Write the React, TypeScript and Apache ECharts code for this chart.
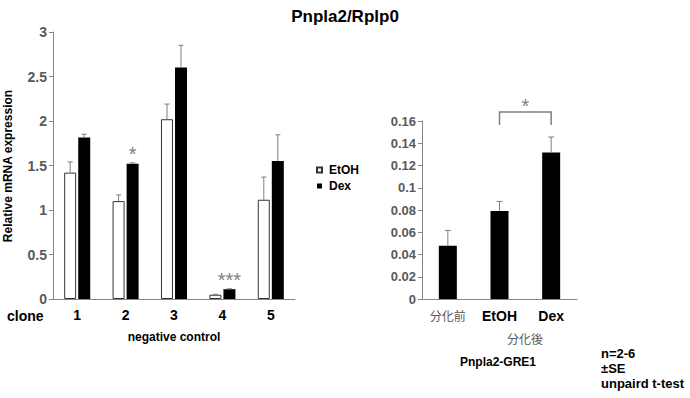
import React, { useEffect, useRef } from "react";
import * as echarts from "echarts";

// ---- data ----
const clones = ["1", "2", "3", "4", "5"];
const etohMean = [1.42, 1.1, 2.02, 0.048, 1.115];
const etohErr = [0.12, 0.07, 0.17, 0.005, 0.255];
const dexMean = [1.816, 1.52, 2.6, 0.11, 1.55];
const dexErr = [0.035, 0.01, 0.25, 0.005, 0.295];
const dexSig = ["", "*", "", "***", ""];

const greCats = ["分化前", "EtOH", "Dex"];
const greMean = [0.0478, 0.0792, 0.1316];
const greErr = [0.0138, 0.0085, 0.014];
const greBrackets = [{ from: 1, to: 2, label: "*" }];

const leftTicks = { min: 0, max: 3, interval: 0.5 };
const rightTicks = { min: 0, max: 0.16, interval: 0.02 };

const FONT = "Liberation Sans, Arial, sans-serif";
const AXIS_GRAY = "#868686";
const ERR_GRAY = "#7f7f7f";
const LABEL_GRAY = "#595959";

function errRenderer(offset: number, cap: number, sig?: string[]) {
  return (params: any, api: any) => {
    const x = api.value(0);
    const m = api.value(1);
    const e = api.value(2);
    const p0 = api.coord([x, m]);
    const p1 = api.coord([x, m + e]);
    const cx = p0[0] + offset;
    const children: any[] = [
      {
        type: "line",
        shape: { x1: cx, y1: p0[1], x2: cx, y2: p1[1] },
        style: { stroke: ERR_GRAY, lineWidth: 1 },
      },
      {
        type: "line",
        shape: { x1: cx - cap, y1: p1[1], x2: cx + cap, y2: p1[1] },
        style: { stroke: ERR_GRAY, lineWidth: 1 },
      },
    ];
    const s = sig ? sig[params.dataIndex] : "";
    if (s) {
      children.push({
        type: "text",
        style: {
          text: s,
          x: cx,
          y: p1[1] - 9,
          align: "center",
          verticalAlign: "middle",
          fontSize: 20,
          fontFamily: FONT,
          fill: ERR_GRAY,
        },
      });
    }
    return { type: "group", children };
  };
}

export default function App() {
  const ref = useRef<HTMLDivElement>(null);
  useEffect(() => {
    if (!ref.current) return;
    const chart = echarts.init(ref.current, undefined, { renderer: "svg" });

    const bracketRender = (params: any, api: any) => {
      const b = greBrackets[params.dataIndex];
      const topVal = Math.max(
        greMean[b.from] + greErr[b.from],
        greMean[b.to] + greErr[b.to]
      );
      const pa = api.coord([b.from, topVal]);
      const pb = api.coord([b.to, topVal]);
      const legBottom = pa[1] - 12;
      const top = legBottom - 13;
      return {
        type: "group",
        children: [
          {
            type: "polyline",
            shape: {
              points: [
                [pa[0], legBottom],
                [pa[0], top],
                [pb[0], top],
                [pb[0], legBottom],
              ],
            },
            style: { stroke: ERR_GRAY, lineWidth: 1.5, fill: "none" },
          },
          {
            type: "text",
            style: {
              text: b.label,
              x: (pa[0] + pb[0]) / 2,
              y: top - 6,
              align: "center",
              verticalAlign: "middle",
              fontSize: 20,
              fontFamily: FONT,
              fill: ERR_GRAY,
            },
          },
        ],
      };
    };

    const option: any = {
      animation: false,
      textStyle: { fontFamily: FONT },
      title: {
        text: "Pnpla2/Rplp0",
        left: "center",
        top: 3,
        textStyle: { fontSize: 17, fontWeight: "bold", color: "#000", fontFamily: FONT },
      },
      legend: {
        data: ["EtOH", "Dex"],
        orient: "vertical",
        left: 311,
        top: 159,
        itemWidth: 5,
        itemHeight: 5,
        itemGap: 4,
        icon: "rect",
        textStyle: { fontSize: 12, fontWeight: "bold", color: "#000", padding: [0, 0, 0, 2] },
      },
      grid: [
        { left: 53, top: 32, width: 242, height: 267 },
        { left: 422, top: 121, width: 155, height: 178 },
      ],
      xAxis: [
        {
          type: "category",
          gridIndex: 0,
          data: clones,
          axisLine: { lineStyle: { color: AXIS_GRAY } },
          axisTick: { length: 5, lineStyle: { color: AXIS_GRAY } },
          axisLabel: { interval: 0, fontSize: 14, fontWeight: "bold", color: "#000", margin: 9 },
        },
        {
          type: "category",
          gridIndex: 1,
          data: greCats,
          axisLine: { lineStyle: { color: AXIS_GRAY } },
          axisTick: { length: 5, lineStyle: { color: AXIS_GRAY } },
          axisLabel: {
            interval: 0,
            margin: 10,
            formatter: (v: string) => (/^[A-Za-z]/.test(v) ? `{b|${v}}` : `{c|${v}}`),
            rich: {
              b: { fontSize: 14, fontWeight: "bold", color: "#000", fontFamily: FONT },
              c: { fontSize: 12, color: LABEL_GRAY, fontFamily: "Noto Sans CJK JP" },
            },
          },
        },
      ],
      yAxis: [
        {
          type: "value",
          gridIndex: 0,
          ...leftTicks,
          splitLine: { show: false },
          axisLine: { show: true, lineStyle: { color: AXIS_GRAY } },
          axisTick: { show: true, length: 4, lineStyle: { color: AXIS_GRAY } },
          axisLabel: { fontSize: 14, fontWeight: "bold", color: LABEL_GRAY, margin: 6 },
        },
        {
          type: "value",
          gridIndex: 1,
          ...rightTicks,
          splitLine: { show: false },
          axisLine: { show: true, lineStyle: { color: AXIS_GRAY } },
          axisTick: { show: true, length: 4, lineStyle: { color: AXIS_GRAY } },
          axisLabel: {
            fontSize: 13,
            fontWeight: "bold",
            color: LABEL_GRAY,
            margin: 6,
            formatter: (v: number) => String(+v.toFixed(2)),
          },
        },
      ],
      series: [
        {
          name: "EtOH",
          type: "bar",
          xAxisIndex: 0,
          yAxisIndex: 0,
          data: etohMean,
          barWidth: 12,
          barGap: "17%",
          itemStyle: { color: "#fff", borderColor: "#333", borderWidth: 1 },
        },
        {
          name: "Dex",
          type: "bar",
          xAxisIndex: 0,
          yAxisIndex: 0,
          data: dexMean,
          barWidth: 12,
          barGap: "17%",
          itemStyle: { color: "#000" },
        },
        {
          name: "EtOH err",
          type: "custom",
          xAxisIndex: 0,
          yAxisIndex: 0,
          z: 5,
          clip: false,
          encode: { x: 0, y: 1 },
          data: etohMean.map((m, i) => [i, m, etohErr[i]]),
          renderItem: errRenderer(-7, 2.5),
        },
        {
          name: "Dex err",
          type: "custom",
          xAxisIndex: 0,
          yAxisIndex: 0,
          z: 5,
          clip: false,
          encode: { x: 0, y: 1 },
          data: dexMean.map((m, i) => [i, m, dexErr[i]]),
          renderItem: errRenderer(7, 2.5, dexSig),
        },
        {
          name: "GRE",
          type: "bar",
          xAxisIndex: 1,
          yAxisIndex: 1,
          data: greMean,
          barWidth: 18,
          itemStyle: { color: "#000" },
        },
        {
          name: "GRE err",
          type: "custom",
          xAxisIndex: 1,
          yAxisIndex: 1,
          z: 5,
          clip: false,
          encode: { x: 0, y: 1 },
          data: greMean.map((m, i) => [i, m, greErr[i]]),
          renderItem: errRenderer(0, 3),
        },
        {
          name: "GRE bracket",
          type: "custom",
          xAxisIndex: 1,
          yAxisIndex: 1,
          z: 5,
          clip: false,
          data: greBrackets.map((b) => [b.from, b.to]),
          renderItem: bracketRender,
        },
      ],
      graphic: [
        {
          type: "text",
          x: 8,
          y: 166,
          rotation: Math.PI / 2,
          style: {
            text: "Relative mRNA expression",
            align: "center",
            verticalAlign: "middle",
            fontSize: 12,
            fontWeight: "bold",
            fontFamily: FONT,
            fill: "#000",
          },
        },
        {
          type: "text",
          x: 7,
          y: 316,
          style: { text: "clone", verticalAlign: "middle", fontSize: 14, fontWeight: "bold", fontFamily: FONT, fill: "#000" },
        },
        {
          type: "text",
          x: 174,
          y: 337,
          style: { text: "negative control", align: "center", verticalAlign: "middle", fontSize: 12, fontWeight: "bold", fontFamily: FONT, fill: "#000" },
        },
        {
          type: "text",
          x: 525,
          y: 338,
          style: { text: "分化後", align: "center", verticalAlign: "middle", fontSize: 12, fontFamily: "Noto Sans CJK JP", fill: LABEL_GRAY },
        },
        {
          type: "text",
          x: 498,
          y: 362,
          style: { text: "Pnpla2-GRE1", align: "center", verticalAlign: "middle", fontSize: 12, fontWeight: "bold", fontFamily: FONT, fill: "#000" },
        },
        {
          type: "text",
          x: 601,
          y: 353,
          style: { text: "n=2-6", verticalAlign: "middle", fontSize: 13, fontWeight: "bold", fontFamily: FONT, fill: "#000" },
        },
        {
          type: "text",
          x: 601,
          y: 368,
          style: { text: "±SE", verticalAlign: "middle", fontSize: 13, fontWeight: "bold", fontFamily: FONT, fill: "#000" },
        },
        {
          type: "text",
          x: 601,
          y: 383,
          style: { text: "unpaird t-test", verticalAlign: "middle", fontSize: 13, fontWeight: "bold", fontFamily: FONT, fill: "#000" },
        },
      ],
    };
    chart.setOption(option);
    return () => chart.dispose();
  }, []);
  return (
    <div
      ref={ref}
      style={{ position: "absolute", left: 0, top: 0, width: 690, height: 398, background: "#fff" }}
    />
  );
}
